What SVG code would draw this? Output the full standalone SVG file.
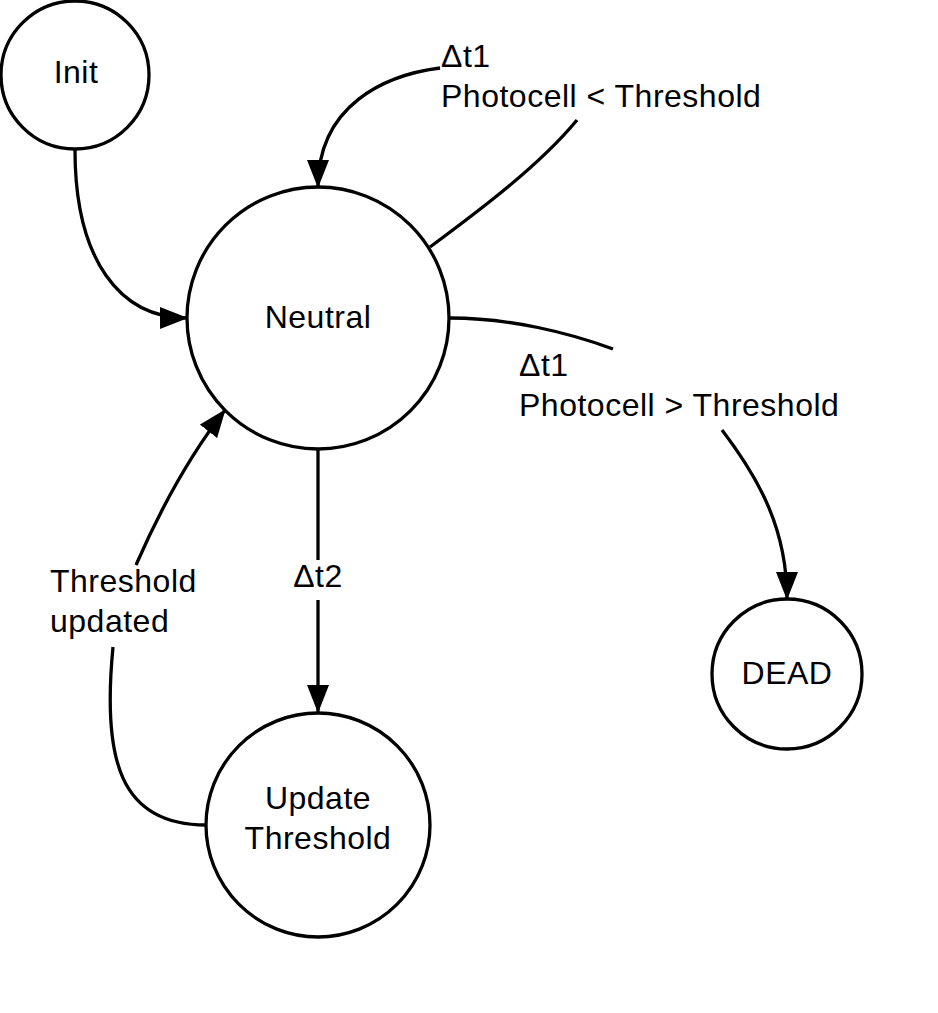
<svg xmlns="http://www.w3.org/2000/svg" width="938" height="1013" viewBox="0 0 938 1013">
<style>
.node{fill:#fff;stroke:#000;stroke-width:3.3}
.edge{fill:none;stroke:#000;stroke-width:3.3}
text{font-family:"Liberation Sans",Arial,sans-serif;font-size:32px;letter-spacing:0.5px;fill:#000}
.c{text-anchor:middle}
</style>
<defs>
<marker id="arr" markerUnits="userSpaceOnUse" markerWidth="28" markerHeight="22" refX="27" refY="11" orient="auto">
<path d="M0,0 L28,11 L0,22 Z" fill="#000"/>
</marker>
</defs>
<rect width="938" height="1013" fill="#fff"/>
<g id="connectors">
<path class="edge" d="M75,150 C75,260 120,318 187,318" marker-end="url(#arr)"/>
<path class="edge" d="M430,247 C480,210 540,165 577,120"/>
<path class="edge" d="M440,68 C385,75 318,105 318,187" marker-end="url(#arr)"/>
<path class="edge" d="M450,318 C510,318 570,333 613,349"/>
<path class="edge" d="M722,430 C760,480 787,530 787,599" marker-end="url(#arr)"/>
<path class="edge" d="M318,449 L318,560"/>
<path class="edge" d="M318,600 L318,712" marker-end="url(#arr)"/>
<path class="edge" d="M113,647 C102,760 120,825 206,825"/>
<path class="edge" d="M136,565 C160,510 190,455 225,410" marker-end="url(#arr)"/>
<text x="441" y="67">Δt1</text>
<text x="441" y="107">Photocell &lt; Threshold</text>
<text x="519" y="376">Δt1</text>
<text x="519" y="416">Photocell &gt; Threshold</text>
<text class="c" x="318" y="587">Δt2</text>
<text x="50" y="592">Threshold</text>
<text x="50" y="632">updated</text>
</g>
<g id="init">
<circle class="node" cx="75" cy="75" r="74"/>
<text class="c" x="76" y="83">Init</text>
</g>
<g id="neutral">
<circle class="node" cx="318" cy="318" r="131"/>
<text class="c" x="318" y="328">Neutral</text>
</g>
<g id="dead">
<circle class="node" cx="787" cy="674" r="75"/>
<text class="c" x="787" y="684">DEAD</text>
</g>
<g id="update">
<circle class="node" cx="318" cy="825" r="112"/>
<text class="c" x="318" y="809">Update</text>
<text class="c" x="318" y="849">Threshold</text>
</g>
</svg>
